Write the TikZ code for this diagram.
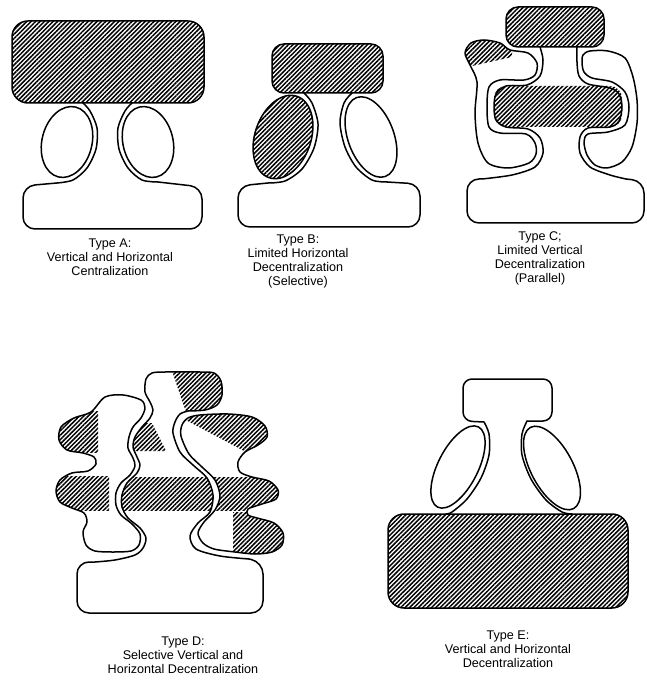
\documentclass[tikz,border=0pt]{standalone}
\usepackage{fontspec}
\setmainfont{Liberation Sans}
\usetikzlibrary{patterns.meta}
\tikzset{
  contour/.style={line width=1.5pt, line join=round, line cap=round},
  hatch/.style={pattern={Lines[angle=45,distance=3.1pt,line width=1.5pt]}},
  caption/.style={align=center, font=\fontsize{12.6}{14}\selectfont, inner sep=0pt}
}
% outlines that are drawn and also used for clipping
\newcommand{\lobeCleft}{plot[smooth cycle] coordinates {(510,50) (528,53) (537,63) (535,75) (524,80) (500,80) (489,87) (487,107) (489,127) (500,133) (526,134) (535,143) (536,154) (529,163) (508,168) (488,163) (478,143) (475,113) (477,82) (470,65) (465,53) (471,43) (484,40) (500,43)}}
\newcommand{\lobeCright}{plot[smooth cycle] coordinates {(583,55) (590,51) (608,51) (625,58) (633,77) (637,100) (637,123) (632,147) (622,162) (607,168) (595,165) (587,155) (584,142) (588,134) (608,132) (625,125) (629,107) (625,92) (612,82) (592,78) (584,72) (582,63)}}
\newcommand{\columnDa}{plot[smooth] coordinates {(188,411) (205,410) (217,405) (222,395) (221,381) (214,373) (200,372) (165,372) (152,373) (146,379) (145,392) (150,402) (153,410) (150,418) (142,427) (135,437) (133,447) (137,457) (140,465) (137,473) (127,483) (122,495) (122,507) (128,518) (140,528) (146,538) (143,548) (135,555) (115,560) (95,562)} [rounded corners=12pt] -- (77,562) -- (77,613) -- (263,613) -- (263,562) -- (249,559)}
\newcommand{\columnDb}[1]{#1 plot[smooth] coordinates {(249,559) (220,556) (196,549) (190,536) (198,523) (210,512) (213,495) (207,478) (193,465) (180,452) (173,433) (175,422) (180,414) (188,411)}}
\newcommand{\lobeDleft}{plot[smooth cycle] coordinates {(105,397) (123,395) (141,400) (145,408) (141,418) (133,427) (129,437) (128,448) (133,458) (135,466) (130,475) (121,483) (116,493) (116,505) (121,515) (132,524) (140,534) (139,545) (131,551) (113,552) (95,551) (86,545) (83,532) (87,522) (84,513) (72,508) (60,502) (56,491) (60,480) (72,473) (88,471) (96,464) (94,457) (83,453) (67,450) (59,440) (61,427) (74,418) (91,412)}}
\newcommand{\lobeDright}{plot[smooth cycle] coordinates {(188,418) (200,415) (228,414) (252,417) (265,426) (267,437) (258,445) (245,452) (238,462) (240,472) (252,477) (269,481) (278,490) (276,499) (262,504) (248,509) (248,515) (257,518) (274,523) (283,533) (282,545) (272,552) (255,554) (235,552) (214,549) (203,543) (198,533) (204,522) (215,510) (220,496) (215,480) (202,467) (189,454) (181,436) (182,425)}}

\begin{document}
\begin{tikzpicture}[x=1pt,y=-1pt]
\useasboundingbox (0,0) rectangle (646,684);

% Type A
\draw[contour,hatch,rounded corners=16pt] (12,21) rectangle (204,103);
\draw[contour,rotate around={-14:(67,142)}] (67,142) ellipse [x radius=25pt,y radius=36pt];
\draw[contour,rotate around={14:(148,142)}] (148,142) ellipse [x radius=25pt,y radius=36pt];
\draw[contour] plot[smooth] coordinates {(83,103) (90,111) (97,128) (96,149) (87,168) (73,180) (57,183)}
  [rounded corners=12pt] -- (23,186) -- (23,229) -- (202,229) -- (202,187) -- (158,182);
\draw[contour] plot[smooth] coordinates {(158,182) (142,180) (128,168) (119,149) (118,128) (125,111) (132,103)};

% Type B
\draw[contour,hatch,rounded corners=12pt] (272,44) rectangle (383,93);
\draw[contour,hatch,rotate around={-19:(283,137)}] (283,137) ellipse [x radius=28pt,y radius=43pt];
\draw[contour,rotate around={20:(371,137)}] (371,137) ellipse [x radius=23pt,y radius=42pt];
\draw[contour] plot[smooth] coordinates {(304,93) (312,103) (318,124) (314,148) (302,169) (285,181) (268,183)}
  [rounded corners=12pt] -- (238,186) -- (238,227) -- (420,227) -- (420,184) -- (387,182);
\draw[contour] plot[smooth] coordinates {(387,182) (372,180) (356,167) (345,147) (340,123) (344,103) (352,93)};

% Type C
\draw[contour,hatch,rounded corners=12pt] (506,7) rectangle (604,47);
\fill[hatch,rounded corners=12pt] (494,86) rectangle (622,127);
\begin{scope}
  \clip \lobeCleft;
  \fill[hatch] (455,30) -- (512,30) -- (512,57) -- (472,66) -- (455,66) -- cycle;
\end{scope}
\draw[contour] \lobeCleft;
\draw[contour] \lobeCright;
\draw[contour] plot[smooth] coordinates {(540,47) (543,60) (540,76) (527,85) (506,86) (496,94) (494,107) (496,120) (506,127) (528,129) (540,138) (543,153) (535,167) (512,175) (482,179)}
  [rounded corners=12pt] -- (467,179) -- (467,223) -- (644,223) -- (644,181) -- (626,179);
\draw[contour] plot[smooth] coordinates {(626,179) (610,175) (590,167) (580,153) (580,137) (588,128) (610,127) (619,121) (622,107) (619,94) (610,88) (588,84) (579,76) (577,62) (577,47)};

% Type D
\begin{scope}
  \clip \columnDa [sharp corners] \columnDb{--} -- cycle;
  \fill[hatch] (170,365) -- (230,365) -- (230,412) -- (187,415) -- cycle;
  \fill[hatch] (120,423) -- (152,423) -- (166,451) -- (120,451) -- cycle;
  \fill[hatch] (100,477) rectangle (230,510);
\end{scope}
\begin{scope}
  \clip \lobeDleft;
  \fill[hatch] (50,411) rectangle (98,452);
  \fill[hatch] (50,476) rectangle (109,510);
\end{scope}
\begin{scope}
  \clip \lobeDright;
  \fill[hatch] (178,405) -- (290,405) -- (290,452) -- (246,452) -- (182,418) -- cycle;
  \fill[hatch] (180,477) rectangle (290,510);
  \fill[hatch] (233,512) rectangle (290,560);
\end{scope}
\draw[contour] \columnDa;
\draw[contour] \columnDb{};
\draw[contour] \lobeDleft;
\draw[contour] \lobeDright;

% Type E
\draw[contour,hatch,rounded corners=16pt] (388,514) rectangle (628,608);
\draw[contour,rotate around={-27:(458,467)}] (458,467) ellipse [x radius=20pt,y radius=45pt];
\draw[contour,rotate around={28:(552,468)}] (552,468) ellipse [x radius=21pt,y radius=46pt];
\draw[contour] plot[smooth] coordinates {(446,514) (452,512) (467,499) (481,478) (489,455) (489,434) (484,422)}
  [rounded corners=9pt] -- (463,421) -- (463,379) -- (552,379) -- (552,421) -- (527,421);
\draw[contour] plot[smooth] coordinates {(527,421) (522,434) (522,455) (531,479) (546,500) (562,512) (572,514)};

% captions
\node[caption] (capA) at (110,257) {Type A:\\Vertical and Horizontal\\Centralization};
\node[caption] (capB) at (298,261) {Type B:\\Limited Horizontal\\Decentralization\\(Selective)};
\node[caption] (capC) at (540,258) {Type C;\\Limited Vertical\\Decentralization\\(Parallel)};
\node[caption] (capD) at (183,655) {Type D:\\Selective Vertical and\\Horizontal Decentralization};
\node[caption] (capE) at (508,649) {Type E:\\Vertical and Horizontal\\Decentralization};
\end{tikzpicture}
\end{document}
